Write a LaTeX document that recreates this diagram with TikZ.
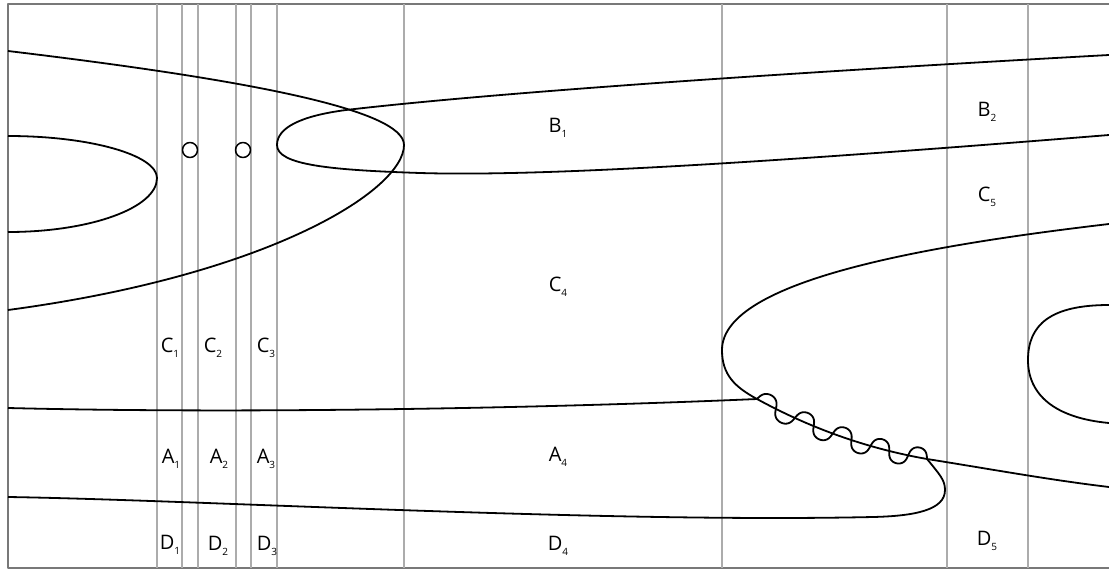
\documentclass[tikz,border=0pt]{standalone}
\usepackage{fontspec}
\setmainfont{Open Sans}
\definecolor{gridgray}{RGB}{172,172,172}
\definecolor{framegray}{RGB}{120,120,120}
\newcommand{\ix}[1]{\raisebox{-4.5pt}{\fontsize{10}{10}\selectfont #1}}

\begin{document}
\begin{tikzpicture}[x=1pt,y=-1pt,line join=round,
  curve/.style={line width=1.8pt,black},
  cut/.style={line width=1.2pt,gridgray},
  frame/.style={line width=2.2pt,framegray},
  lbl/.style={font=\fontsize{20}{20}\selectfont,inner sep=0pt}]
  \useasboundingbox (0,0) rectangle (1109,570);
  %% Frame
  \draw[frame] (1109,4) -- (8,4) -- (8,568) -- (1109,568);
  %% Vertical cuts
  \foreach \x in {157,182,198,236,251,277,404,722,947,1028}
    \draw[cut] (\x,4) -- (\x,568);
  %% Left fold
  \draw[curve] (8,51) .. controls (250,80) and (404,110) .. (404,145)
               .. controls (404,190) and (270,275) .. (8,310);
  \draw[curve] (8,136) .. controls (90,136) and (157,155) .. (157,178)
               .. controls (157,208) and (90,232) .. (8,232);
  %% Small circles
  \draw[line width=1.5pt] (190,150) circle (7.5pt);
  \draw[line width=1.5pt] (243,150) circle (7.5pt);
  %% B1 loop
  \draw[curve] (1109,55) .. controls (800,72) and (500,92) .. (346,110)
               .. controls (300,116) and (277,128) .. (277,145)
               .. controls (277,165) and (330,170) .. (420,173)
               .. controls (550,177) and (800,160) .. (1109,135);
  %% Right fold
  \draw[curve] (1109,224) .. controls (930,245) and (722,280) .. (722,350)
               .. controls (722,375) and (735,387) .. (757,399)
               .. controls (813.7,430) and (870.3,449) .. (927,459)
               .. controls (990,469) and (1050,480) .. (1109,487);
  %% A and D boundary with the wiggle
  \draw[curve] (8,408) .. controls (250,414) and (550,408) .. (757,399)
    -- plot[domain=0:170,samples=240,smooth,variable=\u]
       ({757+\u+(10*sin(9.5294*\u)*(0.547-0.002284*\u)-2*sin(19.0588*\u))/sqrt(1+(0.547-0.002284*\u)^2)},
        {399+0.547*\u-0.001142*\u*\u+(-10*sin(9.5294*\u)-2*sin(19.0588*\u)*(0.547-0.002284*\u))/sqrt(1+(0.547-0.002284*\u)^2)})
    .. controls (940,475) and (945,480) .. (945,490)
    .. controls (945,510) and (915,516) .. (873,517)
    .. controls (600,523) and (200,500) .. (8,497);
  %% Right ellipse
  \draw[curve] (1109,305) .. controls (1050,305) and (1028,325) .. (1028,360)
               .. controls (1028,395) and (1055,418) .. (1109,423);
  %% Labels
  \node[lbl] (c1) at (170,348) {C\ix{1}};
  \node[lbl] (c2) at (213,348) {C\ix{2}};
  \node[lbl] (c3) at (266,348) {C\ix{3}};
  \node[lbl] (a1) at (171,459) {A\ix{1}};
  \node[lbl] (a2) at (219,459) {A\ix{2}};
  \node[lbl] (a3) at (266,459) {A\ix{3}};
  \node[lbl] (d1) at (170,545) {D\ix{1}};
  \node[lbl] (d2) at (218,546) {D\ix{2}};
  \node[lbl] (d3) at (267,546) {D\ix{3}};
  \node[lbl] (b1) at (558,128) {B\ix{1}};
  \node[lbl] (c4) at (558,287) {C\ix{4}};
  \node[lbl] (a4) at (558,457) {A\ix{4}};
  \node[lbl] (d4) at (558,546) {D\ix{4}};
  \node[lbl] (b2) at (987,112) {B\ix{2}};
  \node[lbl] (c5) at (987,197) {C\ix{5}};
  \node[lbl] (d5) at (987,541) {D\ix{5}};
\end{tikzpicture}
\end{document}
